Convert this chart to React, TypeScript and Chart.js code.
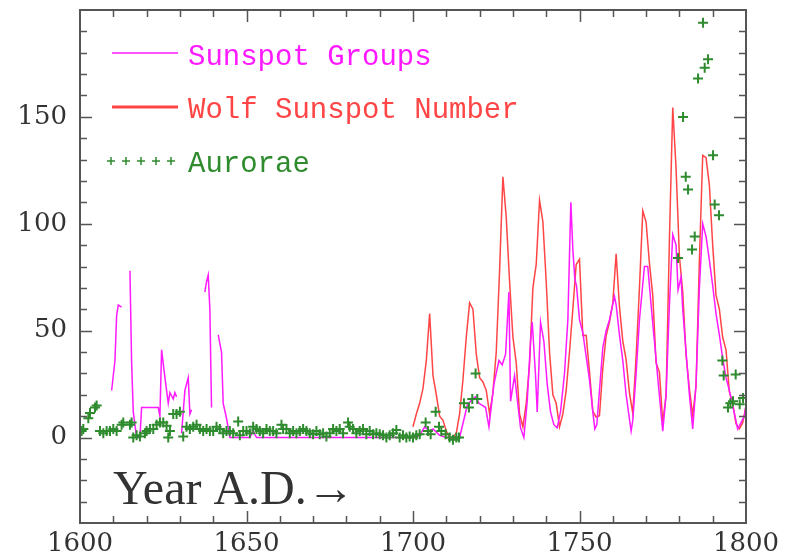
import React, { useEffect, useRef } from "react";
import { Chart, registerables } from "chart.js";

Chart.register(...registerables);

// ---------- data ----------
const xTickLabels = [1600, 1650, 1700, 1750, 1800];
const yTickLabels = [0, 50, 100, 150];

// Sunspot groups (null = gap in the record)
const groupYears = [
  1609.5, 1610.5, 1611, 1611.5, 1612.5, 1613.5,
  1615, 1615.5, 1616, 1617, 1618, 1618.5, 1623.5, 1624, 1624.5, 1625.5, 1626.5, 1627, 1628, 1628.5, 1629, 1629.8,
  1630.5, 1631.5, 1632.5, 1633, 1633.5, 1634.5,
  1637.5, 1638, 1638.5, 1639, 1639.5, 1640.5,
  1641.5, 1642.5, 1643, 1644, 1645, 1651, 1652, 1653, 1660, 1670, 1680, 1690, 1700,
  1702, 1703.5, 1705, 1706, 1708, 1710, 1714, 1716.3, 1717.8, 1718.8, 1719.8, 1720.8, 1721.8, 1722.8,
  1724.3, 1725.8, 1726.8, 1727.8, 1728.8, 1729.3, 1730.5, 1732.3, 1733.3,
  1734.3, 1735.3, 1735.8, 1736.8, 1737.3, 1738.3, 1739.3, 1740.3, 1741.3, 1742.3, 1743.3,
  1744.3, 1745.5, 1746.5, 1747.4, 1748, 1748.6, 1749.1, 1750, 1751, 1752, 1753, 1754, 1754.6, 1755.2,
  1756, 1757, 1758, 1759, 1760.5, 1761, 1762, 1763, 1764, 1765.5, 1766, 1767, 1768, 1769.5, 1770.5,
  1771.5, 1772.5, 1773.5, 1775, 1776, 1777, 1778, 1779, 1779.6, 1780.5, 1781, 1782, 1783, 1784,
  1785, 1786, 1787, 1788, 1789, 1790, 1791, 1792, 1793, 1794, 1795, 1796, 1797.5, 1798.5, 1799.5, 1800,
];
const groupValues = [
  22, 36, 57, 62, 61, null,
  78, 35, 12, 0, 0, 14, 14, 10, 41, 28, 16, 21, 18, 21, 19, null,
  2, 22, 28, 11, 13, null,
  68, 73, 76, 60, 14, null,
  48, 40, 16, 9, 0, 0, 3, 0, 0, 0, 0, 0, 0,
  1, 5, 3, 4, 1, 0, 0, 15, 18, 19, 16, 15, 14, 5,
  25, 36, 34, 39, 68, 17, 29, 4.5, 0,
  17, 45, 54, 29, 12, 54, 45, 25, 12, 6, 4.5,
  12, 30, 55, 110, 88, 74, 71, 55, 49, 38, 27, 12, 4, 6,
  22, 42, 50, 55, 66, 62, 48, 36, 20, 3, 8, 30, 55, 80, 80,
  62, 45, 28, 3, 20, 62, 95, 90, 69, 75, 60, 40, 20, 4,
  25, 70, 100, 94, 83, 71, 58, 48, 37, 28, 22, 15, 4, 7, 10, 15,
];

// Wolf sunspot number, yearly 1700-1800
const wolfStartYear = 1700;
const wolfValues = [
  5, 11, 16, 23, 36, 58, 29, 20, 10, 8,
  3, 0, 0, 2, 11, 27, 47, 63, 60, 39,
  28, 26, 22, 11, 21, 40, 78, 122, 103, 73,
  47, 35, 11, 5, 16, 34, 70, 81, 111, 101,
  73, 40, 20, 16, 5, 11, 22, 40, 60, 80.9,
  83.4, 47.7, 47.8, 30.7, 12.2, 9.6, 10.2, 32.4, 47.6, 54,
  62.9, 85.9, 61.2, 45.1, 36.4, 20.9, 11.4, 37.8, 69.8, 106.1,
  100.8, 81.6, 66.5, 34.8, 30.6, 7, 19.8, 92.5, 154.4, 125.9,
  84.8, 68.1, 38.5, 22.8, 10.2, 24.1, 82.9, 132, 130.9, 118.1,
  89.9, 66.6, 60, 46.9, 41, 21.3, 16, 6.4, 4.1, 6.8,
  14.5,
];

// Aurorae counts
const auroraYears = [
  1600.5, 1601, 1602.5, 1603, 1604.5, 1605, 1606, 1607, 1608, 1609, 1610, 1611, 1612.5, 1613, 1615, 1615.5,
  1616, 1617, 1618, 1619.5, 1620, 1621, 1622, 1623, 1624, 1625, 1626, 1626.5, 1627, 1628, 1629, 1630,
  1631, 1632, 1633, 1634, 1635, 1636, 1637, 1638, 1639, 1640, 1641, 1642, 1643, 1644, 1645, 1646,
  1647.5, 1648, 1649, 1650, 1651, 1652, 1653, 1654, 1655, 1656, 1657, 1658, 1659, 1660.5, 1661, 1662,
  1663, 1664, 1665, 1666, 1667, 1668, 1669, 1670, 1671, 1672, 1673, 1674, 1675, 1676, 1677, 1678,
  1679, 1680.5, 1681, 1682, 1683, 1684, 1685, 1686, 1687, 1688, 1689, 1690, 1691, 1692, 1693, 1694,
  1695, 1696, 1697, 1698, 1699, 1700, 1701, 1702, 1703.8, 1704.5, 1705.3, 1706.8, 1707.8, 1708.5, 1709.8, 1711,
  1712, 1713, 1713.8, 1715.3, 1716.8, 1717.8, 1718.8, 1719.3,
  1779.6, 1781.1, 1781.9, 1782.6, 1783.8, 1784.6, 1785.6, 1787.1, 1787.6, 1788.6, 1790.1, 1790.6, 1791.9,
  1792.9, 1793.3, 1794.6, 1795.3, 1796.1, 1796.9, 1798.1, 1799.1,
];
const auroraValues = [
  3, 4, 9, 11.5, 14, 15, 3, 2, 3, 3, 4, 3, 6, 7, 6, 7,
  0, 1, 0.5, 2, 3, 4, 4, 6, 7, 7, 5.5, 0, 3, 11, 11, 12,
  0.5, 5, 4, 5, 6, 4, 3, 4, 3, 3, 5, 4, 2, 3, 3, 2,
  7.5, 1, 3, 3, 2, 5, 4, 3, 2, 4, 3, 3, 2, 6, 4, 4,
  2, 3, 2, 3, 4, 3, 2, 1.5, 3, 1.5, 2, 0.5, 2, 4, 3, 4,
  2, 7, 5, 4, 2, 3, 4, 1.5, 3, 1.5, 2, 1.5, 1, 0, 1, 2,
  3.5, 0, 1, 0, 0.5, 0, 1, 1.5, 7, 3, 1.5, 12, 5, 3, 1.5, 0,
  -1, 0, 0, 16, 14, 18, 30, 18,
  84, 150, 122, 116, 88, 94, 168, 194, 173, 177, 132, 109, 104,
  36, 29, 14, 16, 17, 29.5, 15.5, 18.5,
];

const MAGENTA = "#ff1aff";
const RED = "#ff4545";
const GREEN = "#2e8b2e";
const FRAME = "#555555";
const TEXT = "#333333";

const framePlugin = {
  id: "frameAndTicks",
  afterDraw(chart: any) {
    const { ctx, chartArea: a, scales } = chart;
    const xs = scales.x;
    const ys = scales.y;
    ctx.save();
    ctx.strokeStyle = FRAME;
    ctx.lineWidth = 1.5;
    ctx.beginPath();
    for (let v = -30; v < 200; v += 10) {
      const y = Math.round(ys.getPixelForValue(v)) + 0.5;
      const len = v % 50 === 0 ? 12 : 7;
      ctx.moveTo(a.left, y);
      ctx.lineTo(a.left + len, y);
      ctx.moveTo(a.right, y);
      ctx.lineTo(a.right - len, y);
    }
    for (let v = 1610; v < 1800; v += 10) {
      const x = Math.round(xs.getPixelForValue(v)) + 0.5;
      const len = v % 50 === 0 ? 12 : 7;
      ctx.moveTo(x, a.bottom);
      ctx.lineTo(x, a.bottom - len);
      ctx.moveTo(x, a.top);
      ctx.lineTo(x, a.top + len);
    }
    ctx.stroke();
    ctx.lineWidth = 2;
    ctx.strokeRect(a.left, a.top, a.right - a.left, a.bottom - a.top);

    // x-axis caption inside plot
    ctx.fillStyle = TEXT;
    ctx.font = "48px 'Liberation Serif', serif";
    ctx.textBaseline = "alphabetic";
    ctx.textAlign = "left";
    ctx.fillText("Year A.D.\u2192", a.left + 33, a.bottom - 19);

    // legend
    const lx0 = a.left + 32;
    const lx1 = a.left + 98;
    const tx = a.left + 108;
    ctx.font = "29px 'Liberation Mono', monospace";
    ctx.lineWidth = 1.5;
    ctx.strokeStyle = MAGENTA;
    ctx.beginPath();
    ctx.moveTo(lx0, a.top + 43);
    ctx.lineTo(lx1, a.top + 43);
    ctx.stroke();
    ctx.fillStyle = MAGENTA;
    ctx.fillText("Sunspot Groups", tx, a.top + 55);

    ctx.lineWidth = 3;
    ctx.strokeStyle = RED;
    ctx.beginPath();
    ctx.moveTo(lx0, a.top + 97);
    ctx.lineTo(lx1, a.top + 97);
    ctx.stroke();
    ctx.fillStyle = RED;
    ctx.fillText("Wolf Sunspot Number", tx, a.top + 108);

    ctx.strokeStyle = GREEN;
    ctx.lineWidth = 1.5;
    ctx.beginPath();
    for (let i = 0; i < 5; i++) {
      const cx = a.left + 31 + i * 15;
      const cy = a.top + 151;
      ctx.moveTo(cx - 4, cy);
      ctx.lineTo(cx + 4, cy);
      ctx.moveTo(cx, cy - 4);
      ctx.lineTo(cx, cy + 4);
    }
    ctx.stroke();
    ctx.fillStyle = GREEN;
    ctx.fillText("Aurorae", tx, a.top + 162);
    ctx.restore();
  },
};

export default function App() {
  const ref = useRef<HTMLCanvasElement | null>(null);

  useEffect(() => {
    document.body.style.margin = "0";
    const canvas = ref.current;
    if (!canvas) return;

    const groupData = groupYears.map((x, i) => ({ x, y: groupValues[i] }));
    const wolfData = wolfValues.map((y, i) => ({ x: wolfStartYear + i, y }));
    const auroraData = auroraYears.map((x, i) => ({ x, y: auroraValues[i] }));

    const chart = new Chart(canvas, {
      type: "line",
      data: {
        datasets: [
          {
            label: "Aurorae",
            data: auroraData,
            showLine: false,
            pointStyle: "cross",
            pointRadius: 5,
            pointBorderWidth: 2,
            pointBorderColor: GREEN,
            pointBackgroundColor: GREEN,
            borderColor: GREEN,
            order: 0,
          },
          {
            label: "Sunspot Groups",
            data: groupData,
            borderColor: MAGENTA,
            borderWidth: 1.5,
            pointRadius: 0,
            spanGaps: false,
            tension: 0,
            order: 1,
          },
          {
            label: "Wolf Sunspot Number",
            data: wolfData,
            borderColor: RED,
            borderWidth: 1.5,
            pointRadius: 0,
            tension: 0,
            order: 2,
          },
        ],
      },
      options: {
        responsive: false,
        animation: false,
        devicePixelRatio: 1,
        layout: { padding: { top: 10, right: 48, left: 0, bottom: 0 } },
        plugins: { legend: { display: false }, tooltip: { enabled: false } },
        scales: {
          x: {
            type: "linear",
            min: 1600,
            max: 1800,
            grid: { display: false, drawTicks: false },
            border: { display: false },
            afterBuildTicks: (s: any) => {
              s.ticks = xTickLabels.map((v) => ({ value: v }));
            },
            afterFit: (s: any) => {
              s.height = 32;
              s.paddingLeft = 0;
              s.paddingRight = 0;
            },
            ticks: {
              padding: 6,
              color: TEXT,
              font: { family: "'DejaVu Serif', serif", size: 26 },
              maxRotation: 0,
              autoSkip: false,
              callback: (v: any) => String(v),
            },
          },
          y: {
            type: "linear",
            min: -40,
            max: 200,
            grid: { display: false, drawTicks: false },
            border: { display: false },
            afterBuildTicks: (s: any) => {
              s.ticks = yTickLabels.map((v) => ({ value: v }));
            },
            afterFit: (s: any) => {
              s.width = 80;
              s.paddingTop = 0;
              s.paddingBottom = 0;
            },
            ticks: {
              padding: 13,
              color: TEXT,
              font: { family: "'DejaVu Serif', serif", size: 26 },
              autoSkip: false,
              callback: (v: any) => String(v),
            },
          },
        },
      },
      plugins: [framePlugin],
    });

    return () => chart.destroy();
  }, []);

  return (
    <div style={{ width: 794, height: 555, background: "#ffffff" }}>
      <canvas ref={ref} width={794} height={555} style={{ display: "block" }} />
    </div>
  );
}
